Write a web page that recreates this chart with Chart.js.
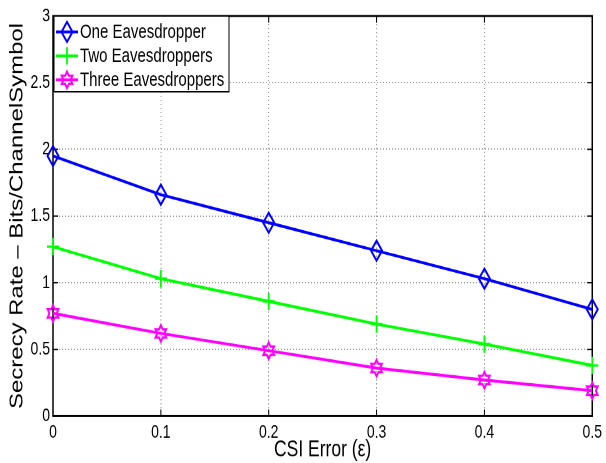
<!DOCTYPE html>
<html>
<head>
<meta charset="utf-8">
<title>Secrecy rate vs CSI error</title>
<script src="https://cdn.jsdelivr.net/npm/chart.js@4/dist/chart.umd.min.js"></script>
<style>
	html, body { margin: 0; padding: 0; background: #fff; width: 606px; height: 463px; }
	/* figure is laid out at 606x348 and stretched to the full 463px height */
	#figure { position: absolute; left: 0; top: 0; width: 606px; height: 348px; transform: scaleY(1.3305); transform-origin: 0 0; }
</style>
</head>
<body>
<div id="figure"><canvas id="secrecyChart"></canvas></div>
<script>
const csiErrors = ["0", "0.1", "0.2", "0.3", "0.4", "0.5"];
const oneEavesdropper = [1.95, 1.66, 1.45, 1.24, 1.03, 0.8];
const twoEavesdroppers = [1.27, 1.03, 0.86, 0.69, 0.54, 0.38];
const threeEavesdroppers = [0.77, 0.62, 0.49, 0.36, 0.27, 0.19];
const seriesNames = ["One Eavesdropper", "Two Eavesdroppers", "Three Eavesdroppers"];

const FONT = "'Liberation Sans', Arial, Helvetica, sans-serif";
Chart.defaults.font.family = FONT;
Chart.defaults.color = "#000";

// matlab-ish open markers
function drawMarker(ctx, shape, x, y, color) {
	ctx.save();
	ctx.strokeStyle = color;
	ctx.lineWidth = 1.8;
	ctx.setLineDash([]);
	ctx.beginPath();
	if (shape === "diamond") {
		ctx.moveTo(x, y - 7.5);
		ctx.lineTo(x + 5.5, y);
		ctx.lineTo(x, y + 7.5);
		ctx.lineTo(x - 5.5, y);
		ctx.closePath();
	} else if (shape === "plus") {
		ctx.moveTo(x - 6, y);
		ctx.lineTo(x + 6, y);
		ctx.moveTo(x, y - 6.5);
		ctx.lineTo(x, y + 6.5);
	} else {
		// hexagram, point up
		for (let i = 0; i < 12; i++) {
			const r = i % 2 ? 3.6 : 6.2;
			const a = -Math.PI / 2 + (i * Math.PI) / 6;
			const px = x + r * Math.cos(a);
			const py = y + r * Math.sin(a);
			if (i === 0) ctx.moveTo(px, py);
			else ctx.lineTo(px, py);
		}
		ctx.closePath();
	}
	ctx.stroke();
	ctx.restore();
}

// full box with inward ticks
const axesBox = {
	id: "axesBox",
	beforeDatasetsDraw(chart) {
		const { ctx, chartArea: a, scales } = chart;
		ctx.save();
		ctx.strokeStyle = "#000";
		ctx.lineWidth = 1;
		ctx.beginPath();
		scales.x.ticks.forEach((t, i) => {
			const px = scales.x.getPixelForTick(i);
			ctx.moveTo(px, a.bottom);
			ctx.lineTo(px, a.bottom - 5);
			ctx.moveTo(px, a.top);
			ctx.lineTo(px, a.top + 5);
		});
		scales.y.ticks.forEach((t) => {
			const py = scales.y.getPixelForValue(t.value);
			ctx.moveTo(a.left, py);
			ctx.lineTo(a.left + 5, py);
			ctx.moveTo(a.right, py);
			ctx.lineTo(a.right - 5, py);
		});
		ctx.stroke();
		ctx.lineWidth = 1.5;
		ctx.strokeRect(a.left, a.top, a.right - a.left, a.bottom - a.top);
		ctx.restore();
	},
};

const seriesMarkers = {
	id: "seriesMarkers",
	afterDatasetsDraw(chart) {
		chart.data.datasets.forEach((ds, i) => {
			chart.getDatasetMeta(i).data.forEach((pt) => {
				drawMarker(chart.ctx, ds.marker, pt.x, pt.y, ds.borderColor);
			});
		});
	},
};

const legendBox = {
	id: "legendBox",
	afterDraw(chart) {
		const { ctx, chartArea: a } = chart;
		const x0 = a.left + 1;
		const y0 = a.top;
		ctx.save();
		ctx.fillStyle = "#fff";
		ctx.fillRect(x0, y0, 175, 57);
		ctx.strokeStyle = "#000";
		ctx.lineWidth = 1;
		ctx.strokeRect(x0, y0, 175, 57);
		ctx.font = "15px " + FONT;
		ctx.textBaseline = "middle";
		chart.data.datasets.forEach((ds, i) => {
			const y = y0 + 12 + i * 18;
			ctx.strokeStyle = ds.borderColor;
			ctx.lineWidth = 2.2;
			ctx.beginPath();
			ctx.moveTo(x0 + 2, y);
			ctx.lineTo(x0 + 24, y);
			ctx.stroke();
			drawMarker(ctx, ds.marker, x0 + 13, y, ds.borderColor);
			ctx.fillStyle = "#000";
			ctx.fillText(ds.label, x0 + 26, y + 0.5);
		});
		ctx.restore();
	},
};

new Chart(document.getElementById("secrecyChart"), {
	type: "line",
	data: {
		labels: csiErrors,
		datasets: [
			{ label: seriesNames[0], data: oneEavesdropper, borderColor: "#0000ff", marker: "diamond" },
			{ label: seriesNames[1], data: twoEavesdroppers, borderColor: "#00ff00", marker: "plus" },
			{ label: seriesNames[2], data: threeEavesdroppers, borderColor: "#ff00ff", marker: "hexagram" },
		],
	},
	options: {
		responsive: true,
		maintainAspectRatio: false,
		devicePixelRatio: 2,
		animation: false,
		events: [],
		layout: { padding: { top: 12, right: 10, bottom: 0, left: 0 } },
		elements: {
			line: { borderWidth: 2.2, tension: 0, fill: false },
			point: { radius: 0 },
		},
		scales: {
			x: {
				grid: { color: "#999", lineWidth: 1, drawTicks: false },
				border: { display: false, dash: [1, 2] },
				ticks: { font: { size: 14 }, padding: 4, maxRotation: 0, autoSkip: false },
				title: {
					display: true,
					text: "CSI Error (ε)",
					font: { size: 17.5 },
					padding: { top: 0, bottom: -0.5 },
				},
				afterFit(scale) {
					scale.height = 35.3;
				},
			},
			y: {
				min: 0,
				max: 3,
				grid: { color: "#999", lineWidth: 1, drawTicks: false },
				border: { display: false, dash: [1, 2] },
				ticks: {
					stepSize: 0.5,
					font: { size: 14 },
					padding: 3,
					callback: (v) => String(v),
				},
				title: {
					display: true,
					text: "Secrecy Rate – Bits/ChannelSymbol",
					font: { size: 18 },
					padding: { top: 6.5, bottom: 0 },
				},
				afterFit(scale) {
					scale.width = 53;
				},
			},
		},
		plugins: {
			legend: { display: false },
			tooltip: { enabled: false },
		},
	},
	plugins: [axesBox, seriesMarkers, legendBox],
});
</script>
</body>
</html>
